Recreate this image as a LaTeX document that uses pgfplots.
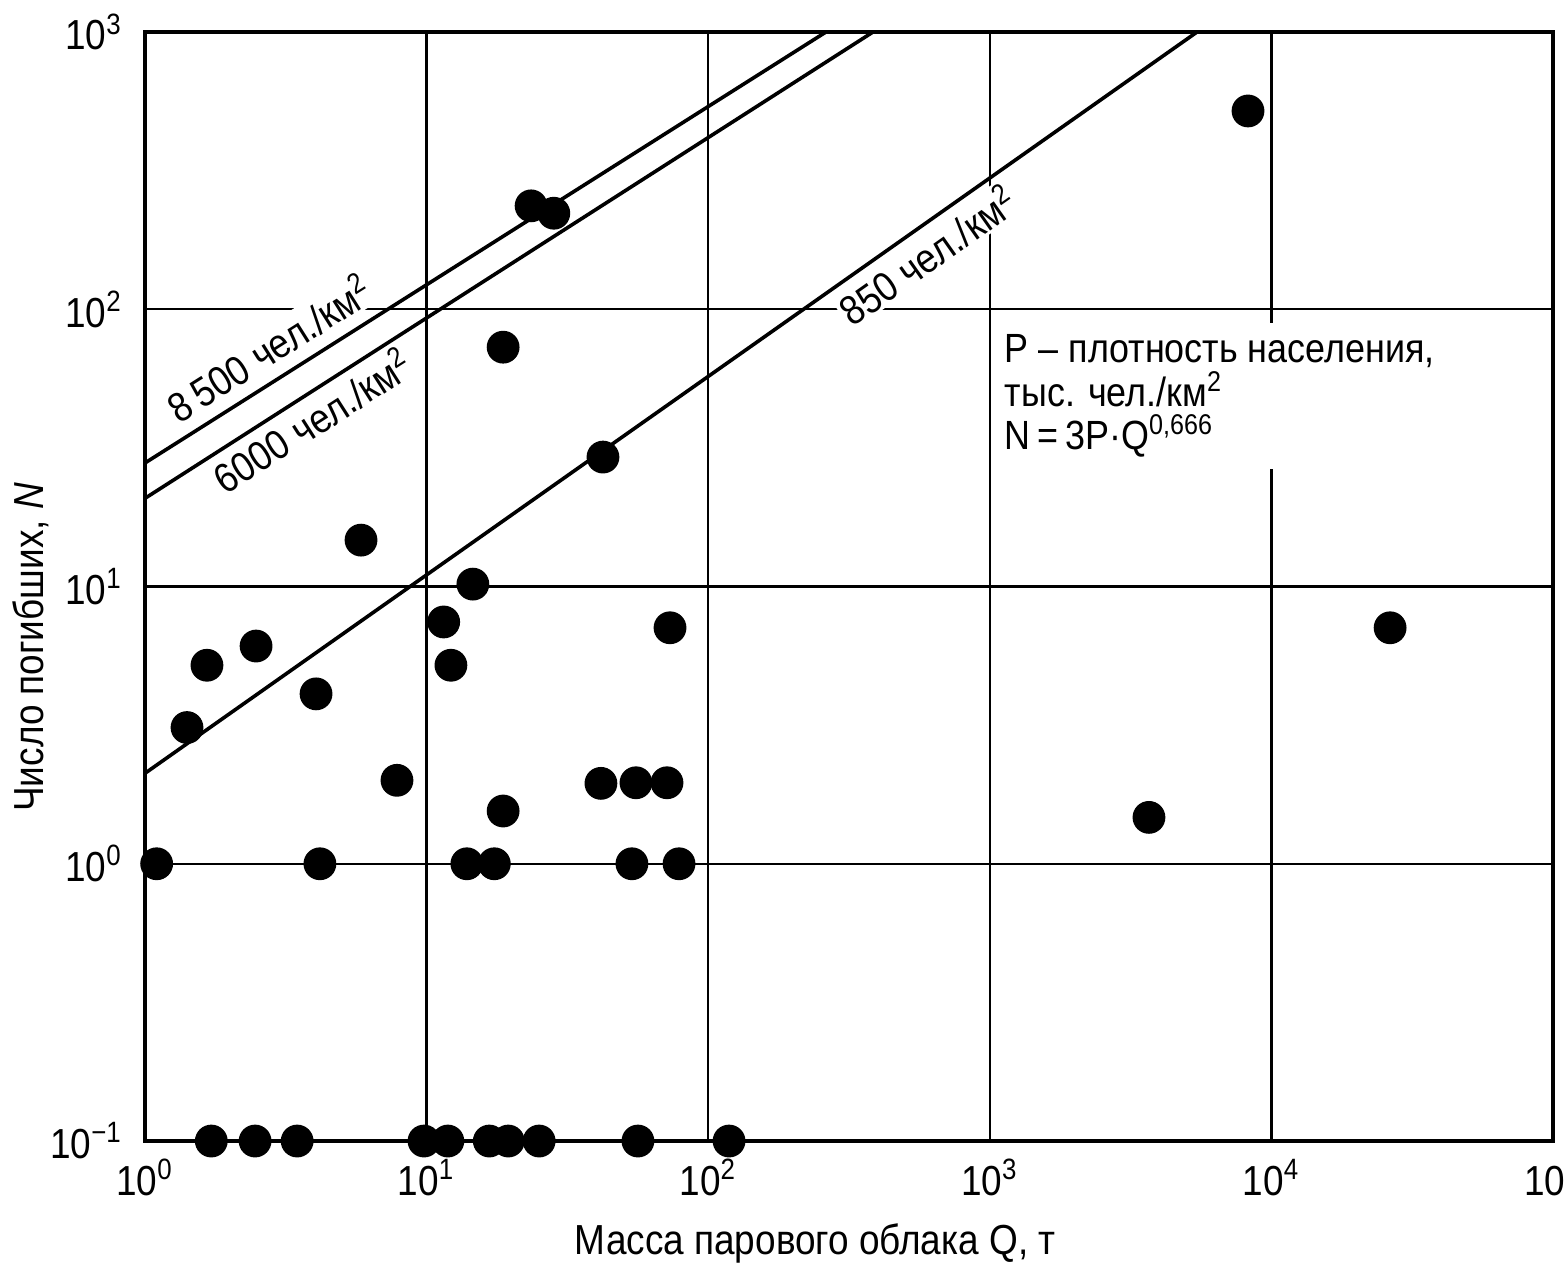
\documentclass[border=0pt]{standalone}
\usepackage{fontspec}
\setmainfont{Liberation Sans}[FakeStretch=0.88]
\usepackage{pgfplots}
\pgfplotsset{compat=1.18}
\begin{document}
\begin{tikzpicture}
\begin{axis}[
  scale only axis, width=352pt, height=277.25pt,
  xmode=log, ymode=log,
  xmin=1, xmax=100000, ymin=0.1, ymax=1000,
  xtick={1,10,100,1000,10000,100000},
  xticklabels={10\textsuperscript{0},10\textsuperscript{1},10\textsuperscript{2},10\textsuperscript{3},10\textsuperscript{4},10\textsuperscript{5}},
  ytick={0.1,1,10,100,1000},
  yticklabels={10\textsuperscript{−1},10\textsuperscript{0},10\textsuperscript{1},10\textsuperscript{2},10\textsuperscript{3}},
  major tick length=0pt,
  minor tick length=0pt,
  grid=major,
  major grid style={black, line width=0.6pt},
  axis line style={black, line width=1pt},
  tick label style={font=\fontsize{10.5}{12}\selectfont},
  xticklabel style={yshift=-1pt},
  yticklabel style={xshift=-2pt},
  label style={font=\fontsize{10.5}{12}\selectfont},
  xlabel={Масса парового облака Q, т},
  ylabel={Число погибших, \textit{N}},
  xlabel style={at={(ticklabel cs:0.476)}},
  ylabel style={at={(ticklabel cs:0.445)}},
  ylabel shift=-6.5pt,
  clip=false,
]
\node[rotate=32.3, fill=white, inner sep=0.5pt, font=\fontsize{10.3}{12}\selectfont] at (axis cs:2.76,73) {8\,500 чел./км\textsuperscript{2}};
\node[rotate=32.6, fill=white, inner sep=0.5pt, font=\fontsize{10.3}{12}\selectfont] at (axis cs:3.92,39.9) {6000 чел./км\textsuperscript{2}};
\node[rotate=35.2, fill=white, inner sep=0.5pt, font=\fontsize{10.3}{12}\selectfont] at (axis cs:600,158) {850 чел./км\textsuperscript{2}};
\node[anchor=north west, fill=white, inner xsep=1pt, inner ysep=3pt, align=left, font=\fontsize{10.2}{10.8}\selectfont] at (axis cs:1087,89.9) {P – плотность населения,\\ тыс. чел./км\textsuperscript{2}\\ N\,=\,3P·Q\textsuperscript{0,666}};
\addplot[black, line width=0.9pt] coordinates {(1,27.9) (262,1000)};
\addplot[black, line width=0.9pt] coordinates {(1,20.8) (385,1000)};
\addplot[black, line width=0.9pt] coordinates {(1,2.12) (5445,1000)};
\addplot[only marks, mark=*, mark size=3.9pt, black] coordinates {
(1.10,1.0) (1.41,3.1) (1.66,5.2) (2.48,6.1) (4.05,4.1) (4.18,1.0) (5.85,14.7)
(7.85,2.0) (11.5,7.45) (12.2,5.2) (14.6,10.2) (13.9,1.0) (17.4,1.0) (18.7,73)
(18.7,1.55) (23.5,236) (28.3,222) (42.3,29.3) (41.6,1.95) (55.4,1.96) (71.4,1.96)
(73.2,7.1) (53.6,1.0) (78.8,1.0) (8260,519) (26400,7.1) (3675,1.47)
(1.72,0.1) (2.46,0.1) (3.47,0.1) (9.79,0.1) (11.9,0.1) (16.7,0.1) (19.5,0.1)
(25.1,0.1) (56.3,0.1) (118.6,0.1)
};
\end{axis}
\pgfresetboundingbox
\useasboundingbox ([xshift=-36.25pt,yshift=-30.25pt]current axis.south west) rectangle ([xshift=3pt,yshift=8pt]current axis.north east);
\end{tikzpicture}
\end{document}
